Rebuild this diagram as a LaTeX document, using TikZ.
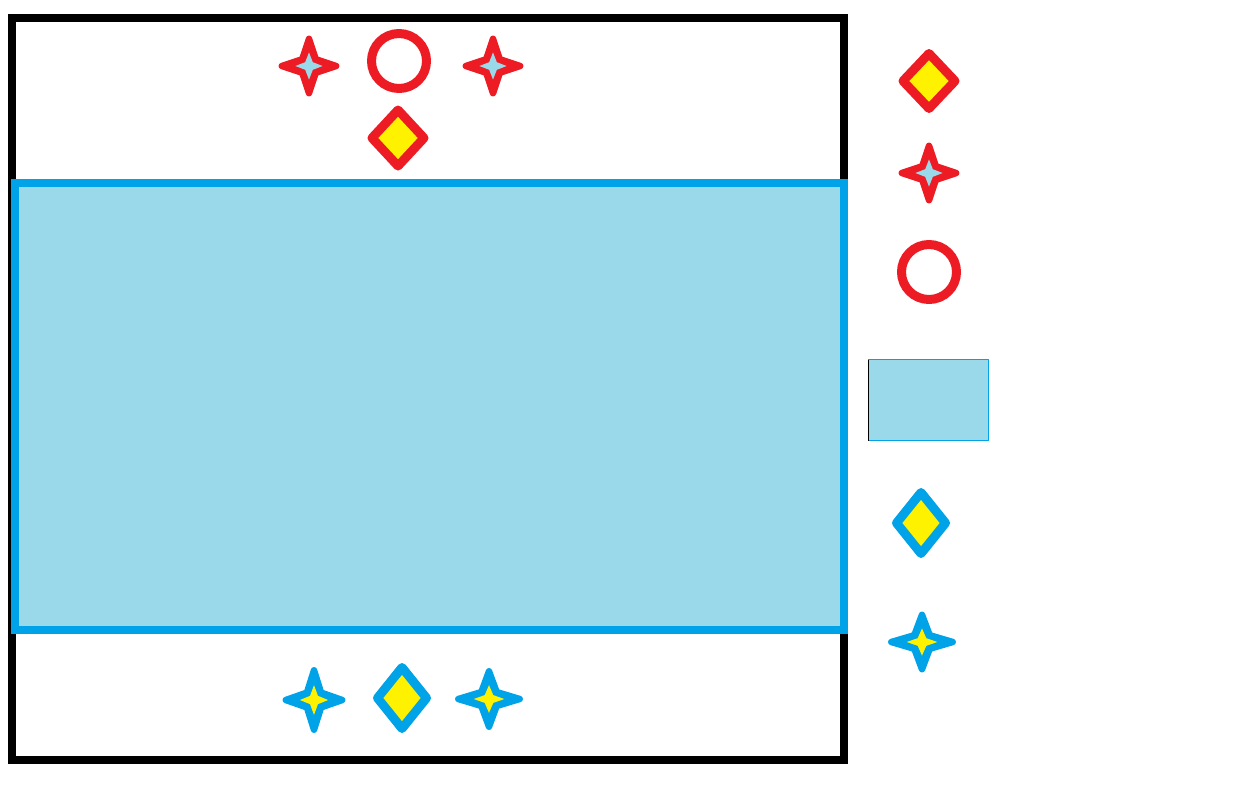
\documentclass[tikz,border=0pt]{standalone}

\definecolor{paintred}{HTML}{ED1C24}
\definecolor{paintyellow}{HTML}{FFF200}
\definecolor{paintsky}{HTML}{99D9EA}
\definecolor{paintblue}{HTML}{00A2E8}

\tikzset{
  pics/sparkle/.style 2 args={code={
    \filldraw[#1,line width=6.5pt] (1,0) -- (0.25,0.25) -- (0,1) -- (-0.25,0.25)
      -- (-1,0) -- (-0.25,-0.25) -- (0,-1) -- (0.25,-0.25) -- cycle;
    \fill[#2] (0.5,0) -- (0.14,0.14) -- (0,0.5) -- (-0.14,0.14)
      -- (-0.5,0) -- (-0.14,-0.14) -- (0,-0.5) -- (0.14,-0.14) -- cycle;
  }},
  pics/gem/.style={code={
    \filldraw[draw=#1,fill=paintyellow,line width=9pt] (1,0) -- (0,1) -- (-1,0) -- (0,-1) -- cycle;
  }},
  ring/.style={draw=paintred,line width=9pt},
  frame/.style={line width=8pt,line join=miter}
}

\begin{document}
\begin{tikzpicture}[x=1pt,y=-1pt,line join=round]
  \useasboundingbox (0,0) rectangle (1234,785);
  % frame and pool
  \draw[frame] (12,18) rectangle (844,760);
  \draw[frame,draw=paintblue,fill=paintsky] (15,183) rectangle (844,630);
  % top row
  \pic[scale=27.2] at (309,66) {sparkle={paintred}{paintsky}};
  \draw[ring] (399,61) circle (27.5);
  \pic[scale=27.2] at (493,66) {sparkle={paintred}{paintsky}};
  \pic[xscale=26,yscale=28] at (398,138) {gem=paintred};
  % bottom row
  \pic[xscale=28.2,yscale=29.7] at (314,700) {sparkle={paintblue}{paintyellow}};
  \pic[xscale=24.5,yscale=30.5] at (402,698) {gem=paintblue};
  \pic[xscale=30.7,yscale=27.7] at (489,699) {sparkle={paintblue}{paintyellow}};
  % legend
  \pic[xscale=26,yscale=27.5] at (929,81) {gem=paintred};
  \pic[scale=27.2] at (929,173) {sparkle={paintred}{paintsky}};
  \draw[ring] (929,272) circle (27.5);
  \filldraw[draw=paintblue,fill=paintsky,line width=1pt] (868.5,359.5) rectangle (988.5,440.5);
  \draw[line width=1pt] (868.5,359.5) -- (868.5,440.5);
  \pic[xscale=24.5,yscale=30.5] at (921,523) {gem=paintblue};
  \pic[xscale=30.7,yscale=27.2] at (922,642) {sparkle={paintblue}{paintyellow}};
\end{tikzpicture}
\end{document}
